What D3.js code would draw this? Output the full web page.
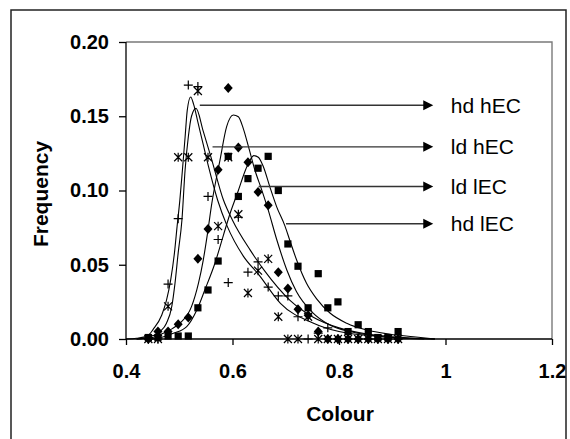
<!DOCTYPE html>
<html><head><meta charset="utf-8">
<script src="https://cdn.jsdelivr.net/npm/d3@7"></script>
<style>
html,body{margin:0;padding:0;background:#fff;}
svg{display:block;font-family:"Liberation Sans",Arial,sans-serif;}
</style></head>
<body>
<svg id="chart" width="570" height="439"></svg>
<script>
// ---- data ----
const colourBins = [0.442,0.460,0.479,0.498,0.517,0.535,0.554,0.573,0.592,0.611,0.629,0.648,0.667,0.686,0.704,0.723,0.742,0.761,0.779,0.798,0.817,0.836,0.855,0.873,0.892,0.911];
const plusValues    = [0,0,0.037,0.081,0.171,0.170,0.096,0.067,0.038,0.082,0.045,0.052,0.035,0.029,0.029,0.015,0,0.004,0.0075,0,0,0,0,0,0,0];
const starValues    = [0,0,0.022,0.1224,0.1224,0.167,0.1224,0.076,0.1224,0.084,0.031,0.046,0.054,0.015,0,0,0.015,0,0,0,0,0,0,0,0,0];
const diamondValues = [0,0.005,0.005,0.010,0.0145,0.054,0.074,0.114,0.169,0.129,0.119,0.099,0.090,0.045,0.034,0.020,0.016,0.005,0,0,0,0,0,0,0,0];
const squareValues  = [0.001,0.001,0.002,0.002,0.002,0.021,0.033,0.0525,0.123,0.096,0.108,0.115,0.123,0.100,0.064,0.049,0.021,0.044,0.021,0.025,0.005,0.0096,0.005,0.001,0.001,0.005];

// fitted curves
const fitPlusX = [0.40,0.42,0.44,0.451,0.467,0.476,0.484,0.491,0.496,0.501,0.506,0.511,0.515,0.5215,0.527,0.535,0.545,0.555,0.572,0.59,0.62,0.65,0.69,0.75,0.80,0.85,0.90,0.98];
const fitPlusY = [0,0.0005,0.002,0.0065,0.016,0.026,0.040,0.058,0.076,0.093,0.114,0.136,0.154,0.163,0.158,0.146,0.131,0.116,0.0936,0.076,0.056,0.043,0.024,0.011,0.005,0.0025,0.001,0];
const fitStarX = [0.42,0.445,0.464,0.476,0.486,0.492,0.498,0.505,0.511,0.517,0.523,0.5315,0.545,0.56,0.583,0.60,0.633,0.66,0.708,0.75,0.80,0.85,0.90,0.98];
const fitStarY = [0,0.0016,0.005,0.0106,0.022,0.0375,0.058,0.080,0.114,0.136,0.150,0.1553,0.140,0.122,0.0936,0.080,0.060,0.046,0.026,0.015,0.0075,0.0035,0.0015,0];
const fitDiamondX = [0.42,0.45,0.47,0.487,0.501,0.523,0.536,0.545,0.553,0.561,0.5765,0.589,0.6015,0.611,0.620,0.630,0.642,0.655,0.667,0.683,0.702,0.72,0.75,0.78,0.82,0.86,0.90,0.96];
const fitDiamondY = [0,0.001,0.0038,0.007,0.0106,0.0218,0.0375,0.053,0.071,0.091,0.1205,0.143,0.1508,0.1497,0.142,0.1295,0.1138,0.1003,0.087,0.067,0.0465,0.032,0.018,0.010,0.005,0.0025,0.001,0];
const fitSquareX = [0.44,0.46,0.489,0.514,0.533,0.548,0.567,0.583,0.595,0.611,0.6235,0.633,0.640,0.6485,0.658,0.670,0.683,0.6986,0.708,0.7206,0.739,0.758,0.783,0.8145,0.852,0.896,0.94,0.98];
const fitSquareY = [0,0.0005,0.0038,0.0083,0.0195,0.033,0.051,0.070,0.084,0.100,0.113,0.1205,0.1235,0.1224,0.116,0.1026,0.089,0.076,0.066,0.053,0.0375,0.027,0.0175,0.0106,0.006,0.0032,0.0015,0];

const arrowLabels = ["hd hEC","ld hEC","ld lEC","hd lEC"];
const arrowY      = [0.1574,0.1294,0.1027,0.0776];
const arrowStartX = [0.5386,0.5625,0.6490,0.7005];
const arrowEndX   = 0.977;
const labelX      = 1.01;

const xTicks = [0.4,0.6,0.8,1,1.2];
const yTicks = [0,0.05,0.10,0.15,0.20];

// ---- drawing ----
const svg = d3.select("#chart");
const x = d3.scaleLinear().domain([0.4,1.2]).range([126,552]);
const y = d3.scaleLinear().domain([0,0.2]).range([339,42]);

// outer frame
svg.append("path").attr("d","M11,439V10H566V439").attr("fill","none").attr("stroke","#222").attr("stroke-width",1.5);

// plot area border (top/right)
svg.append("path").attr("d",`M${x(0.4)},${y(0.2)}H${x(1.2)}V${y(0)}`).attr("fill","none").attr("stroke","#7a7a7a").attr("stroke-width",1.4);

// axes
const yAxis = d3.axisLeft(y).tickValues(yTicks).tickFormat(d3.format(".2f")).tickSize(7).tickPadding(10);
const xAxis = d3.axisBottom(x).tickValues(xTicks).tickFormat(d=>String(d)).tickSize(6).tickPadding(19);
const gy = svg.append("g").attr("transform",`translate(${x(0.4)},0)`).call(yAxis);
const gx = svg.append("g").attr("transform",`translate(0,${y(0)})`).call(xAxis);
[gx,gy].forEach(g=>{
  g.select(".domain").attr("stroke","#000").attr("stroke-width",1.3);
  g.selectAll(".tick line").attr("stroke","#000").attr("stroke-width",1.3);
  g.selectAll(".tick text").attr("fill","#000").style("font-size","20px").style("font-weight","bold").style("font-family","'Liberation Sans',Arial,sans-serif");
});
gy.select(".domain").attr("d",`M0,${y(0.2)}V${y(0)}`);
gx.select(".domain").attr("d",`M${x(0.4)},0H${x(1.2)}`);

// axis titles
svg.append("text").attr("x",340).attr("y",421).attr("text-anchor","middle")
  .style("font-size","21px").style("font-weight","bold").text("Colour");
svg.append("text").attr("transform","translate(48,194) rotate(-90)").attr("text-anchor","middle")
  .style("font-size","21px").style("font-weight","bold").text("Frequency");

// fitted curves
const line = d3.line().x(d=>x(d[0])).y(d=>y(d[1])).curve(d3.curveMonotoneX);
[[fitPlusX,fitPlusY],[fitStarX,fitStarY],[fitDiamondX,fitDiamondY],[fitSquareX,fitSquareY]].forEach(([xs,ys])=>{
  svg.append("path").datum(d3.zip(xs,ys)).attr("d",line).attr("fill","none").attr("stroke","#000").attr("stroke-width",1.1);
});

// markers
const g = svg.append("g");
g.selectAll(".sq").data(d3.zip(colourBins,squareValues)).join("rect")
  .attr("x",d=>x(d[0])-3.6).attr("y",d=>y(d[1])-3.6).attr("width",7.2).attr("height",7.2).attr("fill","#000");
g.selectAll(".dm").data(d3.zip(colourBins,diamondValues)).join("path")
  .attr("d",d=>{const cx=x(d[0]),cy=y(d[1]);return `M${cx},${cy-5}L${cx+4.5},${cy}L${cx},${cy+5}L${cx-4.5},${cy}Z`;}).attr("fill","#000");
g.selectAll(".pl").data(d3.zip(colourBins,plusValues)).join("path")
  .attr("d",d=>{const cx=x(d[0]),cy=y(d[1]);return `M${cx-4.5},${cy}H${cx+4.5}M${cx},${cy-4.5}V${cy+4.5}`;})
  .attr("stroke","#000").attr("stroke-width",1.2).attr("fill","none");
g.selectAll(".st").data(d3.zip(colourBins,starValues)).join("path")
  .attr("d",d=>{const cx=x(d[0]),cy=y(d[1]);return `M${cx-4},${cy-4}L${cx+4},${cy+4}M${cx-4},${cy+4}L${cx+4},${cy-4}M${cx},${cy-4.5}V${cy+4.5}`;})
  .attr("stroke","#000").attr("stroke-width",1.2).attr("fill","none");

// arrows with labels
arrowLabels.forEach((lab,i)=>{
  const yy = y(arrowY[i]);
  const x0 = x(arrowStartX[i]), x1 = x(arrowEndX);
  svg.append("line").attr("x1",x0).attr("x2",x1-9).attr("y1",yy).attr("y2",yy).attr("stroke","#333").attr("stroke-width",1.3);
  svg.append("path").attr("d",`M${x1},${yy}L${x1-10},${yy-5}L${x1-10},${yy+5}Z`).attr("fill","#000");
  svg.append("text").attr("x",x(labelX)).attr("y",yy).attr("dy","0.36em").style("font-size","21px").attr("fill","#000").text(lab);
});
</script>
</body></html>
